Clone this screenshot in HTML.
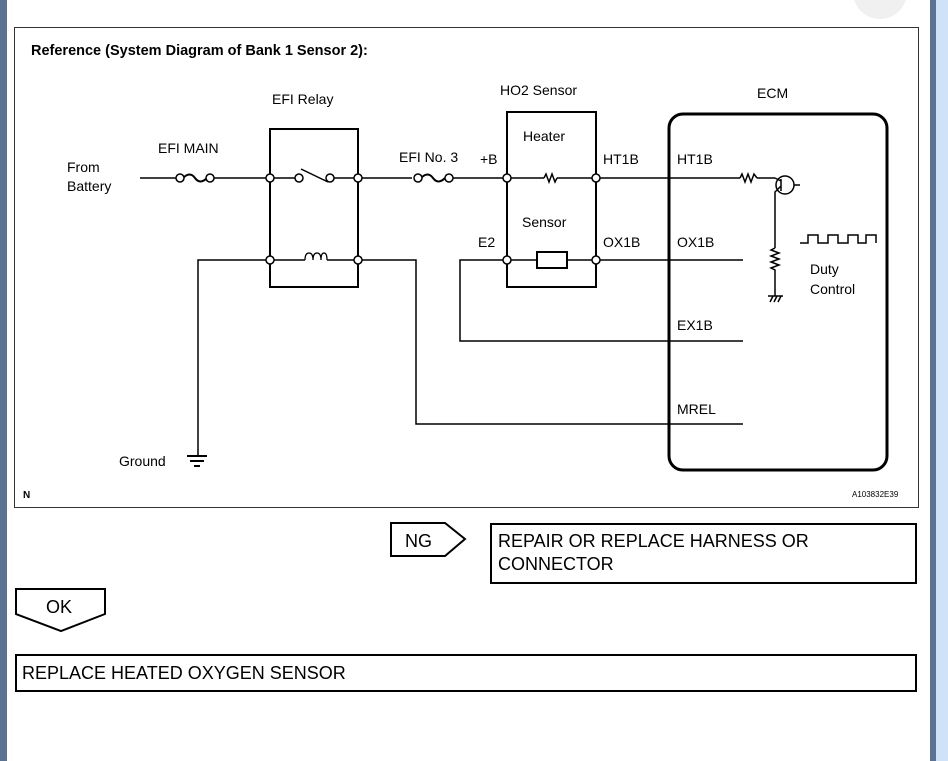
<!DOCTYPE html>
<html><head><meta charset="utf-8"><style>
html,body{margin:0;padding:0;width:948px;height:761px;overflow:hidden;background:#fff;font-family:"Liberation Sans",sans-serif;}
svg{position:absolute;left:0;top:0}
</style></head><body>
<svg width="948" height="761" viewBox="0 0 948 761" font-family="Liberation Sans, sans-serif">
<rect x="0" y="0" width="7" height="761" fill="#5b7393"/>
<rect x="930" y="0" width="6" height="761" fill="#5b7393"/>
<rect x="936" y="0" width="12" height="761" fill="#cfe2f7"/>
<circle cx="880" cy="-8" r="27" fill="#f0f0f0"/>
<rect x="14.5" y="27.5" width="904" height="480" fill="#fff" stroke="#333" stroke-width="1"/>
<text x="31" y="55" font-size="14.5" font-weight="bold">Reference (System Diagram of Bank 1 Sensor 2):</text>
<g font-size="14" fill="#000">
<text x="272" y="104">EFI Relay</text>
<text x="500" y="95">HO2 Sensor</text>
<text x="757" y="98">ECM</text>
<text x="158" y="153">EFI MAIN</text>
<text x="67" y="172">From</text>
<text x="67" y="191">Battery</text>
<text x="399" y="162">EFI No. 3</text>
<text x="480" y="164">+B</text>
<text x="523" y="141">Heater</text>
<text x="522" y="227">Sensor</text>
<text x="478" y="247">E2</text>
<text x="603" y="164">HT1B</text>
<text x="603" y="247">OX1B</text>
<text x="677" y="164">HT1B</text>
<text x="677" y="247">OX1B</text>
<text x="677" y="330">EX1B</text>
<text x="677" y="414">MREL</text>
<text x="810" y="274">Duty</text>
<text x="810" y="294">Control</text>
<text x="119" y="466">Ground</text>
</g>
<text x="23" y="498" font-size="10" font-weight="bold">N</text>
<text x="852" y="497" font-size="8">A103832E39</text>
<g stroke="#000" stroke-width="2" fill="none">
<rect x="270" y="129" width="88" height="158"/>
<rect x="507" y="112" width="89" height="175"/>
<rect x="669" y="114" width="218" height="356" rx="14" stroke-width="3"/>
</g>
<g stroke="#000" stroke-width="1.5" fill="none">
<path d="M140 178H177M213 178H296M333 178H412M453 178H544M557 178H740M757 178H775"/>
<path d="M183 178q7 -7 12 0t12 0" stroke-width="2"/>
<path d="M421 178q7 -7 12 0t12 0" stroke-width="2"/>
<path d="M301 169L328 182"/>
<path d="M544 178l2 -4 3 8 3 -8 3 8 2 -4"/>
<path d="M740 178l2 -4 3 8 3 -8 3 8 3 -8 3 4"/>
<path d="M270 260H305M327 260H358M358 260H416V424H743M270 260H198V456"/>
<path d="M305 260q0 -7 4 -7t4 7q0 -7 4 -7t4 7q0 -7 3 -7t3 7" stroke-width="1.3"/>
<path d="M507 260H537M567 260H596M596 260H743M507 260H460V341H743"/>
<rect x="537" y="252" width="30" height="16" stroke-width="2"/>
<circle cx="785" cy="185" r="9"/>
<path d="M775 178L781 181M781 179V191M781 186L775 192V248M775 248l-4 2 8 3 -8 3 8 3 -8 3 8 3 -8 3 4 2V296M794 185H800"/>
<path d="M768 296H783M770 302l3 -6M774 302l3 -6M778 302l3 -6"/>
<path d="M800 243H808V235H818V243H828V235H838V243H848V235H858V243H866V235H876V243"/>
<path d="M187 456H207M190 461H204M194 466H200" stroke-width="2"/>
</g>
<g fill="#fff" stroke="#000" stroke-width="1.5">
<circle cx="180" cy="178" r="4"/><circle cx="210" cy="178" r="4"/>
<circle cx="418" cy="178" r="4"/><circle cx="449" cy="178" r="4"/>
<circle cx="270" cy="178" r="4"/><circle cx="299" cy="178" r="4"/><circle cx="330" cy="178" r="4"/><circle cx="358" cy="178" r="4"/>
<circle cx="270" cy="260" r="4"/><circle cx="358" cy="260" r="4"/>
<circle cx="507" cy="178" r="4"/><circle cx="596" cy="178" r="4"/>
<circle cx="507" cy="260" r="4"/><circle cx="596" cy="260" r="4"/>
</g>
<g stroke="#000" stroke-width="2" fill="#fff">
<path d="M391 523H445L465 539L445 556H391Z"/>
<rect x="491" y="524" width="425" height="59"/>
<path d="M16 589H105V614L61 631L16 614Z"/>
<rect x="16" y="655" width="900" height="36"/>
</g>
<g font-size="18" fill="#000">
<text x="405" y="547">NG</text>
<text x="498" y="547">REPAIR OR REPLACE HARNESS OR</text>
<text x="498" y="570">CONNECTOR</text>
<text x="46" y="613">OK</text>
<text x="22" y="679">REPLACE HEATED OXYGEN SENSOR</text>
</g>
</svg>
</body></html>
